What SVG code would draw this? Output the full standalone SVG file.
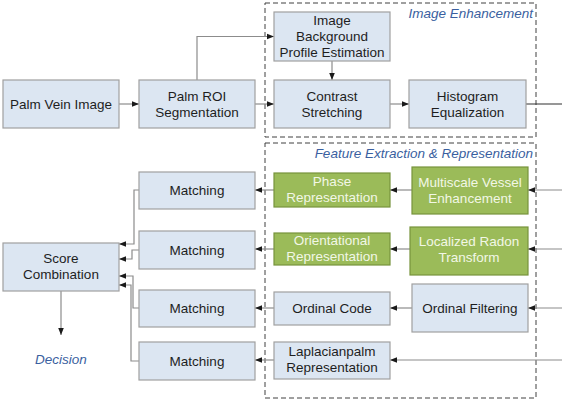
<svg xmlns="http://www.w3.org/2000/svg" width="562" height="401" viewBox="0 0 562 401">
  <defs>
    <marker id="arr" viewBox="0 0 8 8" refX="8" refY="4" markerWidth="7" markerHeight="7" markerUnits="userSpaceOnUse" orient="auto">
      <path d="M0,0.8 L8,4 L0,7.2 Z" fill="#1a1a1a"/>
    </marker>
    <style>
      .box { fill: #dce6f2; stroke: #a0a0a0; stroke-width: 1.2; }
      .gbox { fill: #9bbb59; stroke: #77933c; stroke-width: 1.2; }
      .t { font-family: "Liberation Sans", Arial, sans-serif; font-size: 13.5px; fill: #1e1e1e; text-anchor: middle; }
      .gt { font-family: "Liberation Sans", Arial, sans-serif; font-size: 13.5px; fill: #f2f7e6; text-anchor: middle; }
      .lbl { font-family: "Liberation Sans", Arial, sans-serif; font-size: 13.5px; font-style: italic; fill: #3a5fa0; }
      .frame { fill: none; stroke: #404040; stroke-width: 1; stroke-dasharray: 5 3; }
      .c { fill: none; stroke: #8c8c8c; stroke-width: 1.2; }
      .ca { fill: none; stroke: #8c8c8c; stroke-width: 1.2; marker-end: url(#arr); }
    </style>
  </defs>
  <rect width="562" height="401" fill="#ffffff"/>

  <!-- stage frames -->
  <g id="frames">
    <rect class="frame" x="265" y="3" width="271" height="134"/>
    <text class="lbl" x="533" y="18" text-anchor="end">Image Enhancement</text>
    <rect class="frame" x="265" y="143" width="271" height="255"/>
    <text class="lbl" x="533" y="158" text-anchor="end">Feature Extraction &amp; Representation</text>
  </g>

  <!-- connectors -->
  <g id="connectors">
    <path class="ca" d="M119,104 H139"/>
    <path class="ca" d="M197,80 V36.5 H274"/>
    <path class="ca" d="M255,104 H274"/>
    <path class="ca" d="M332,61 V80"/>
    <path class="ca" d="M390,104 H409"/>
    <path d="M526,104 H562" fill="none" stroke="#303030" stroke-width="1.2"/>

    <path class="ca" d="M562,190 H528"/>
    <path class="ca" d="M562,249 H528"/>
    <path class="ca" d="M562,308 H528"/>
    <path class="ca" d="M562,360 H390"/>

    <path class="ca" d="M412,190 H390"/>
    <path class="ca" d="M410,249 H390"/>
    <path class="ca" d="M412,308 H390"/>

    <path class="ca" d="M274,190 H255"/>
    <path class="ca" d="M274,249 H255"/>
    <path class="ca" d="M274,308 H255"/>
    <path class="ca" d="M274,360 H255"/>

    <path class="ca" d="M139,190 H134 V244 H119"/>
    <path class="ca" d="M139,250 H132 V259 H119"/>
    <path class="ca" d="M139,308 H133 V276 H119"/>
    <path class="ca" d="M139,361 H131 V285 H119"/>

    <path class="ca" d="M61,291 V335"/>
  </g>

  <g id="palm-vein-image">
    <rect class="box" x="3" y="80" width="116" height="48"/>
    <text class="t" x="61" y="109">Palm Vein Image</text>
  </g>
  <g id="palm-roi-segmentation">
    <rect class="box" x="139" y="80" width="116" height="48"/>
    <text class="t" x="197" y="101">Palm ROI</text>
    <text class="t" x="197" y="117">Segmentation</text>
  </g>
  <g id="background-profile-estimation">
    <rect class="box" x="274" y="12" width="116" height="49"/>
    <text class="t" x="332" y="25">Image</text>
    <text class="t" x="332" y="41">Background</text>
    <text class="t" x="332" y="57">Profile Estimation</text>
  </g>
  <g id="contrast-stretching">
    <rect class="box" x="274" y="80" width="116" height="48"/>
    <text class="t" x="332" y="101">Contrast</text>
    <text class="t" x="332" y="117">Stretching</text>
  </g>
  <g id="histogram-equalization">
    <rect class="box" x="409" y="80" width="117" height="48"/>
    <text class="t" x="467.5" y="101">Histogram</text>
    <text class="t" x="467.5" y="117">Equalization</text>
  </g>

  <g id="multiscale-vessel-enhancement">
    <rect class="gbox" x="412" y="167" width="116" height="47"/>
    <text class="gt" x="470" y="187">Multiscale Vessel</text>
    <text class="gt" x="470" y="203">Enhancement</text>
  </g>
  <g id="phase-representation">
    <rect class="gbox" x="274" y="173" width="116" height="34"/>
    <text class="gt" x="332" y="186">Phase</text>
    <text class="gt" x="332" y="202">Representation</text>
  </g>
  <g id="localized-radon-transform">
    <rect class="gbox" x="410" y="227" width="118" height="48"/>
    <text class="gt" x="469" y="246">Localized Radon</text>
    <text class="gt" x="469" y="262">Transform</text>
  </g>
  <g id="orientational-representation">
    <rect class="gbox" x="274" y="233" width="116" height="32"/>
    <text class="gt" x="332" y="245">Orientational</text>
    <text class="gt" x="332" y="261">Representation</text>
  </g>
  <g id="ordinal-filtering">
    <rect class="box" x="412" y="284" width="116" height="48"/>
    <text class="t" x="470" y="313">Ordinal Filtering</text>
  </g>
  <g id="ordinal-code">
    <rect class="box" x="274" y="292" width="116" height="33"/>
    <text class="t" x="332" y="313">Ordinal Code</text>
  </g>
  <g id="laplacianpalm-representation">
    <rect class="box" x="274" y="342" width="116" height="37"/>
    <text class="t" x="332" y="356">Laplacianpalm</text>
    <text class="t" x="332" y="372">Representation</text>
  </g>

  <g id="matching-1">
    <rect class="box" x="139" y="172" width="116" height="37"/>
    <text class="t" x="197" y="195">Matching</text>
  </g>
  <g id="matching-2">
    <rect class="box" x="139" y="231" width="116" height="38"/>
    <text class="t" x="197" y="255">Matching</text>
  </g>
  <g id="matching-3">
    <rect class="box" x="139" y="290" width="116" height="37"/>
    <text class="t" x="197" y="313">Matching</text>
  </g>
  <g id="matching-4">
    <rect class="box" x="139" y="342" width="116" height="38"/>
    <text class="t" x="197" y="366">Matching</text>
  </g>

  <g id="score-combination">
    <rect class="box" x="3" y="243" width="116" height="48"/>
    <text class="t" x="61" y="263">Score</text>
    <text class="t" x="61" y="279">Combination</text>
  </g>
  <g id="decision">
    <text class="lbl" x="61" y="364" text-anchor="middle">Decision</text>
  </g>
</svg>
